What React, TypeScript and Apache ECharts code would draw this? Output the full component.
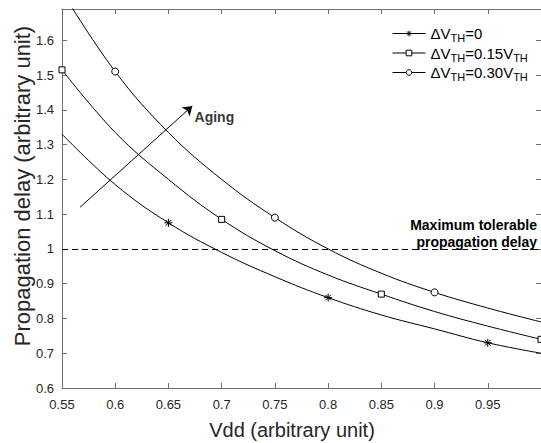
import React, { useEffect, useRef } from "react";
import * as echarts from "echarts";

const xValues = [0.55, 0.6, 0.65, 0.7, 0.75, 0.8, 0.85, 0.9, 0.95, 1.0];
const delayNominal = [1.33, 1.185, 1.075, 0.99, 0.92, 0.86, 0.81, 0.77, 0.73, 0.7];
const delayAged15 = [1.515, 1.335, 1.2, 1.085, 0.995, 0.925, 0.87, 0.82, 0.778, 0.74];
const delayAged30 = [1.74, 1.51, 1.335, 1.2, 1.09, 1.0, 0.93, 0.875, 0.83, 0.79];
const markersNominal = [0.65, 0.8, 0.95];
const markersAged15 = [0.55, 0.7, 0.85, 1.0];
const markersAged30 = [0.6, 0.75, 0.9];
const seriesNames = ["ΔVTH=0", "ΔVTH=0.15VTH", "ΔVTH=0.30VTH"];
const legendParts = [
  ["ΔV", "TH", "=0"],
  ["ΔV", "TH", "=0.15V", "TH"],
  ["ΔV", "TH", "=0.30V", "TH"],
];
const maxTolerableDelay = 1;
const agingArrowStart = [0.567, 1.12];
const agingArrowEnd = [0.6724, 1.411];
const agingLabelPos = [0.6745, 1.38];
const xTitle = "Vdd (arbitrary unit)";
const yTitle = "Propagation delay (arbitrary unit)";
const maxNote = "Maximum tolerable\npropagation delay";

const FONT = "'Liberation Sans', Arial, Helvetica, sans-serif";
const AXIS_COLOR = "#6e6e6e";
const LABEL_COLOR = "#262626";
const ASTERISK = "path://M5,0L5,10M0,5L10,5M1.5,1.5L8.5,8.5M1.5,8.5L8.5,1.5";

function buildData(ys: number[], markers: number[]) {
  return xValues.map((x, i) => {
    const hasMarker = markers.some((m) => Math.abs(m - x) < 1e-9);
    return hasMarker ? { value: [x, ys[i]] } : { value: [x, ys[i]], symbol: "none" };
  });
}

export default function App() {
  const ref = useRef<HTMLDivElement>(null);
  useEffect(() => {
    if (!ref.current) return;
    const chart = echarts.init(ref.current, null, { renderer: "svg" });
    const baseSeries = {
      type: "line",
      smooth: 0.4,
      showSymbol: true,
      lineStyle: { color: "#000", width: 1 },
      itemStyle: { color: "#fff", borderColor: "#000", borderWidth: 1 },
      emphasis: { disabled: true },
      silent: true,
      z: 3,
    };
    const axisCommon = {
      type: "value",
      axisLine: { show: true, lineStyle: { color: AXIS_COLOR, width: 1 } },
      axisTick: { show: true, inside: true, length: 5, lineStyle: { color: AXIS_COLOR } },
      splitLine: { show: false },
    };
    chart.setOption({
      animation: false,
      grid: { left: 62, right: -1, top: 9, bottom: 55, containLabel: false },
      xAxis: [
        {
          ...axisCommon,
          min: 0.55,
          max: 1.0,
          interval: 0.05,
          position: "bottom",
          axisLabel: { color: LABEL_COLOR, fontSize: 13, fontFamily: FONT, margin: 10, showMaxLabel: false },
        },
        {
          ...axisCommon,
          min: 0.55,
          max: 1.0,
          interval: 0.05,
          position: "top",
          axisLabel: { show: false },
        },
      ],
      yAxis: [
        {
          ...axisCommon,
          min: 0.6,
          max: 1.69,
          interval: 0.1,
          position: "left",
          axisLabel: { color: LABEL_COLOR, fontSize: 13, fontFamily: FONT, margin: 8, showMaxLabel: false },
        },
        {
          ...axisCommon,
          min: 0.6,
          max: 1.69,
          interval: 0.1,
          position: "right",
          axisLabel: { show: false },
        },
      ],
      legend: {
        data: seriesNames,
        orient: "vertical",
        left: 387,
        top: 21,
        itemWidth: 33,
        itemHeight: 7,
        itemGap: 2,
        selectedMode: false,
        itemStyle: { borderWidth: 1 },
        lineStyle: { width: 1 },
        formatter: (name: string) => {
          const idx = seriesNames.indexOf(name);
          const parts = legendParts[idx] || [name];
          return parts.map((p, i) => (i % 2 === 0 ? `{m|${p}}` : `{s|${p}}`)).join("");
        },
        textStyle: {
          color: "#000",
          fontFamily: FONT,
          fontSize: 15,
          rich: {
            m: { fontSize: 15, fontFamily: FONT, color: "#000", lineHeight: 20, verticalAlign: "middle" },
            s: { fontSize: 11, fontFamily: FONT, color: "#000", lineHeight: 20, verticalAlign: "bottom" },
          },
        },
      },
      series: [
        {
          ...baseSeries,
          name: seriesNames[0],
          symbol: ASTERISK,
          symbolSize: 8,
          data: buildData(delayNominal, markersNominal),
          markLine: {
            silent: true,
            symbol: ["none", "none"],
            label: { show: false },
            emphasis: { disabled: true },
            data: [
              { yAxis: maxTolerableDelay, lineStyle: { type: [6, 4], color: "#000", width: 1 } },
              [
                { coord: agingArrowStart, symbol: "none" },
                { coord: agingArrowEnd, symbol: "arrow", symbolSize: 9 },
              ],
            ],
            lineStyle: { color: "#000", width: 1, type: "solid" },
          },
        },
        {
          ...baseSeries,
          name: seriesNames[1],
          symbol: "rect",
          symbolSize: 6,
          data: buildData(delayAged15, markersAged15),
        },
        {
          ...baseSeries,
          name: seriesNames[2],
          symbol: "circle",
          symbolSize: 7,
          data: buildData(delayAged30, markersAged30),
        },
        {
          type: "scatter",
          name: "aging-label",
          symbolSize: 0,
          silent: true,
          data: [agingLabelPos],
          label: {
            show: true,
            position: "right",
            distance: 0,
            formatter: "Aging",
            fontWeight: "bold",
            fontSize: 14,
            fontFamily: FONT,
            color: "#000",
          },
        },
      ],
      graphic: [
        {
          type: "text",
          x: 292,
          y: 430,
          silent: true,
          style: {
            text: xTitle,
            fontSize: 20,
            fontFamily: FONT,
            fill: LABEL_COLOR,
            textAlign: "center",
            textVerticalAlign: "middle",
            align: "center",
            verticalAlign: "middle",
          },
        },
        {
          type: "text",
          x: 22,
          y: 186,
          rotation: Math.PI / 2,
          silent: true,
          style: {
            text: yTitle,
            fontSize: 22,
            fontFamily: FONT,
            fill: LABEL_COLOR,
            textAlign: "center",
            textVerticalAlign: "middle",
            align: "center",
            verticalAlign: "middle",
          },
        },
        {
          type: "text",
          x: 537,
          y: 233,
          silent: true,
          style: {
            text: maxNote,
            fontSize: 14,
            fontWeight: "bold",
            fontFamily: FONT,
            fill: "#000",
            lineHeight: 17,
            textAlign: "right",
            textVerticalAlign: "middle",
            align: "right",
            verticalAlign: "middle",
          },
        },
      ],
    });
    return () => chart.dispose();
  }, []);
  return (
    <div
      ref={ref}
      style={{ position: "fixed", left: 0, top: 0, width: 541, height: 443, background: "#fff" }}
    />
  );
}
